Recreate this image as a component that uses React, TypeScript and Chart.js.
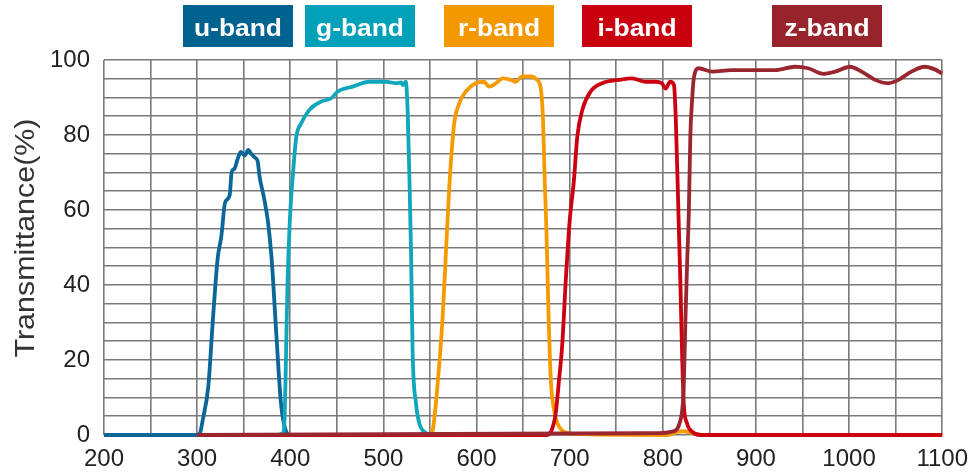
import { useEffect, useRef } from 'react';
import { Chart, registerables } from 'chart.js';

Chart.register(...registerables);

// ---- data ----
const bandNames = ['u-band', 'g-band', 'r-band', 'i-band', 'z-band'];
const bandColors = ['#00638f', '#00a1b9', '#f39800', '#c9000e', '#97232b'];
const lineColors = ['#0b6797', '#10a6bc', '#f59b00', '#cc0011', '#9a2630'];

const uWave = [200, 300, 303, 306, 312, 317, 322, 326, 330, 335, 337, 340, 344, 347, 351, 355, 358, 362, 365, 367, 372, 376, 380, 385, 390, 395, 400, 405];
const uVal = [0, 0, 0.5, 4, 13, 31, 47, 53, 62, 64, 70, 71, 74, 75.5, 74.5, 76, 75, 74, 73, 69, 63, 57, 47, 27, 8.5, 1.3, 0, 0];

const gWave = [385, 392, 394, 395.5, 397, 399.5, 403, 406.5, 411.5, 420.5, 433, 444, 451, 467, 485, 503, 513.5, 519, 521, 524, 526, 528, 529.7, 531.4, 535, 538.6, 545.7, 550, 560];
const gVal = [0, 0.5, 5, 22, 40, 57, 70, 79.5, 83, 86.7, 88.9, 89.8, 91.6, 92.9, 94.2, 94.2, 93.8, 94, 93.3, 94.2, 86.7, 68, 48.5, 21.8, 8.4, 3.1, 0.5, 0, 0];

const rWave = [545, 550, 553, 558, 563.5, 567, 570.7, 576, 581.4, 588.5, 599, 608, 613.5, 620.7, 628, 637, 642, 649, 658, 665, 669, 671.4, 673.2, 675, 677, 679.7, 683, 687, 692, 702, 805, 815, 822, 832, 845, 1100];
const rVal = [0, 0, 1.3, 13, 31, 48, 66, 83, 88.4, 91.6, 93.8, 94.2, 92.9, 93.8, 95.1, 94.7, 94.2, 95.6, 95.6, 94.7, 92.4, 84, 68, 55, 35, 15, 7, 3, 1.2, 0.3, 0, 0.8, 1, 0.5, 0, 0];

const iWave = [300, 675, 680, 685, 688.6, 692, 696, 700, 704.6, 708.2, 713.6, 722.5, 735, 753, 767, 781, 792, 799, 803, 808, 812, 814, 817, 819, 820.7, 822.5, 826, 831.4, 840, 1100];
const iVal = [0, 0, 0.9, 5.8, 14.7, 24, 42, 57, 68, 79.6, 86.7, 91.6, 93.8, 94.7, 95.1, 94.2, 94.2, 93.8, 92.4, 94.2, 93.3, 84, 57.3, 39.5, 21.8, 8.4, 3.1, 0.9, 0, 0];

const zWave = [300, 796, 810, 819, 822.5, 824.3, 826, 828, 829.6, 831.4, 833.2, 838.6, 853, 874, 903, 921, 942, 956, 972.5, 985, 1001, 1013.5, 1028, 1042, 1053, 1067, 1081, 1092, 1100];
const zVal = [0, 0.5, 0.9, 4, 12.9, 30.7, 45, 60, 80, 89, 95, 97.8, 96.9, 97.3, 97.3, 97.3, 98.2, 97.8, 96.3, 96.9, 98.2, 96.9, 94.7, 93.8, 94.7, 96.9, 98.2, 97.5, 96.4];

const bandWaves = [uWave, gWave, rWave, iWave, zWave];
const bandVals = [uVal, gVal, rVal, iVal, zVal];
const drawOrder = [4, 3, 2, 1, 0];

const xMin = 200;
const xMax = 1100;
const xStep = 50;
const xLabelEvery = 100;
const yMin = 0;
const yMax = 100;
const yStep = 5;
const yLabelEvery = 20;
const yTitle = 'Transmittance(%)';

const FONT = "'Liberation Sans', Arial, Helvetica, sans-serif";

// ---- layout of decorations ----
const legendLeft = [183, 305, 444, 582, 772];
const legendTop = 5;
const legendW = 110;
const legendH = 42;

const decorPlugin = {
  id: 'decor',
  afterDraw(chart: any) {
    const ctx = chart.ctx as CanvasRenderingContext2D;
    bandNames.forEach((name, i) => {
      ctx.save();
      ctx.fillStyle = bandColors[i];
      ctx.fillRect(legendLeft[i], legendTop, legendW, legendH);
      ctx.fillStyle = '#ffffff';
      ctx.font = `bold 24px ${FONT}`;
      ctx.textBaseline = 'alphabetic';
      ctx.textAlign = 'center';
      const cx = legendLeft[i] + legendW / 2;
      ctx.translate(cx, 35.5);
      ctx.scale(1.1, 1);
      ctx.fillText(name, 0, 0);
      ctx.restore();
    });
    ctx.save();
    ctx.fillStyle = '#333333';
    ctx.font = `27px ${FONT}`;
    ctx.textAlign = 'center';
    ctx.textBaseline = 'middle';
    const w = ctx.measureText(yTitle).width;
    ctx.translate(27, 238);
    ctx.rotate(-Math.PI / 2);
    ctx.scale(239 / w, 1);
    ctx.fillText(yTitle, 0, 0);
    ctx.restore();
  },
};

export default function App() {
  const canvasRef = useRef<HTMLCanvasElement | null>(null);

  useEffect(() => {
    if (!canvasRef.current) return;
    const datasets = bandNames.map((name, i) => ({
      label: name,
      data: bandWaves[i].map((x, k) => ({ x, y: bandVals[i][k] })),
      borderColor: lineColors[i],
      backgroundColor: lineColors[i],
      borderWidth: 3.8,
      pointRadius: 0,
      fill: false,
      clip: false as const,
      cubicInterpolationMode: 'monotone' as const,
      order: drawOrder[i],
    }));

    const gridColor = '#7a7a7a';

    const chart = new Chart(canvasRef.current, {
      type: 'line',
      data: { datasets },
      plugins: [decorPlugin],
      options: {
        animation: false,
        responsive: true,
        maintainAspectRatio: false,
        layout: { padding: { top: 60, right: 34, left: 0, bottom: 0 } },
        plugins: {
          legend: { display: false },
          tooltip: { enabled: false },
          title: { display: false },
        },
        scales: {
          x: {
            type: 'linear',
            min: xMin,
            max: xMax,
            border: { display: false },
            grid: { color: gridColor, lineWidth: 1.6, drawTicks: false },
            ticks: {
              stepSize: xStep,
              autoSkip: false,
              maxRotation: 0,
              padding: 10,
              color: '#222222',
              font: { family: FONT, size: 24 },
              callback: (v: any) => (Number(v) % xLabelEvery === 0 ? String(v) : ''),
            },
            afterFit: (s: any) => {
              s.height = 41;
            },
          },
          y: {
            type: 'linear',
            min: yMin,
            max: yMax,
            border: { display: false },
            grid: { color: gridColor, lineWidth: 1.6, drawTicks: false },
            ticks: {
              stepSize: yStep,
              autoSkip: false,
              padding: 14,
              color: '#222222',
              font: { family: FONT, size: 24 },
              callback: (v: any) => (Number(v) % yLabelEvery === 0 ? String(v) : ''),
            },
            afterFit: (s: any) => {
              s.width = 104;
            },
          },
        },
      },
    });
    return () => chart.destroy();
  }, []);

  return (
    <div style={{ position: 'absolute', left: 0, top: 0, width: 978, height: 476, background: '#ffffff' }}>
      <canvas ref={canvasRef} />
    </div>
  );
}
